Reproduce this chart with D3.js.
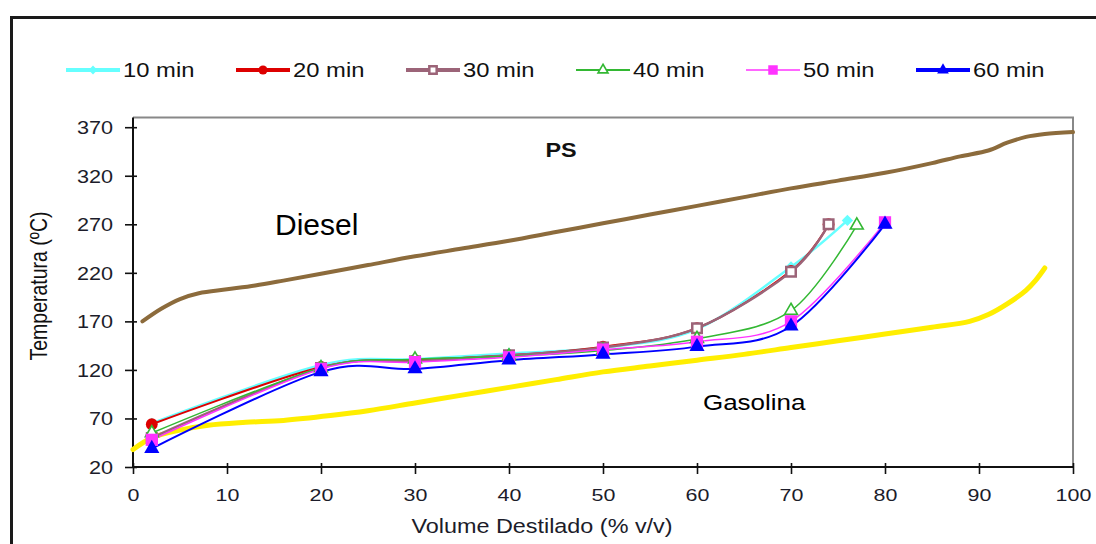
<!DOCTYPE html>
<html>
<head>
<meta charset="utf-8">
<script src="https://cdn.jsdelivr.net/npm/d3@7"></script>
<style>
  html, body { margin: 0; padding: 0; background: #fff; }
  svg { display: block; font-family: "Liberation Sans", Arial, sans-serif; }
</style>
</head>
<body>
<svg id="chart" width="1096" height="544"></svg>
<script>
// Distillation curves of the PS samples against diesel and gasoline references
const seriesNames = ["10 min", "20 min", "30 min", "40 min", "50 min", "60 min"];
const volumePoints = [2, 20, 30, 40, 50, 60, 70];
const endVolume = [76, 74, 74, 77, 80, 80];
const temp10 = [65, 125, 131, 137, 143, 162, 226, 274];
const temp20 = [64, 123, 130, 135, 144, 163, 222, 270];
const temp30 = [50, 122, 129, 135, 143, 163, 221, 270];
const temp40 = [55, 122, 131, 134, 140, 152, 181, 269];
const temp50 = [48, 121, 128, 133, 141, 149, 170, 272];
const temp60 = [39, 118, 121, 130, 136, 144, 165, 270];

const dieselVolume = [1, 3, 5, 7, 10, 13, 16, 20, 25, 30, 35, 40, 45, 50, 55, 60, 65, 70, 75, 80, 85, 88, 91, 93, 95, 97, 100];
const dieselTemp   = [170, 183, 193, 199, 203, 207, 212, 219, 228, 237, 245, 253, 262, 271, 280, 289, 298, 307, 315, 323, 333, 340, 346, 354, 360, 363, 365];
const gasolineVolume = [0, 2, 5, 8, 12, 16, 21, 25, 30, 35, 40, 45, 50, 55, 60, 65, 70, 75, 80, 85, 89, 91, 93, 95, 96, 97];
const gasolineTemp   = [38, 50, 58, 63, 66, 68, 73, 78, 86, 94, 102, 110, 118, 124, 130, 136, 143, 150, 157, 164, 170, 177, 188, 202, 212, 225];

const xTicks = [0, 10, 20, 30, 40, 50, 60, 70, 80, 90, 100];
const yTicks = [20, 70, 120, 170, 220, 270, 320, 370];

const temps = [temp10, temp20, temp30, temp40, temp50, temp60];
const series = seriesNames.map((name, i) => ({
  name,
  points: volumePoints.map((v, j) => [v, temps[i][j]]).concat([[endVolume[i], temps[i][7]]])
}));

// Appearance of each series: line colour/width, marker shape and fill
const styles = [
  { color: "#66ffff", width: 2.5, legendWidth: 4,   symbol: d3.symbolSquare,   size: 64,  fill: "#66ffff", rotate: 45, sw: 0 },
  { color: "#dd0000", width: 2,   legendWidth: 4,   symbol: d3.symbolCircle,   size: 110, fill: "#dd0000", rotate: 0,  sw: 0 },
  { color: "#9c6478", width: 2.5, legendWidth: 4,   symbol: d3.symbolSquare,   size: 90,  fill: "#ffffff", rotate: 0,  sw: 2.5 },
  { color: "#33b833", width: 1.5, legendWidth: 2,   symbol: d3.symbolTriangle, size: 72,  fill: "#ffffff", rotate: 0,  sw: 1.6 },
  { color: "#ff33ff", width: 1.5, legendWidth: 1.5, symbol: d3.symbolSquare,   size: 150, fill: "#ff33ff", rotate: 0,  sw: 0 },
  { color: "#0000ff", width: 2,   legendWidth: 4,   symbol: d3.symbolTriangle, size: 100, fill: "#0000ff", rotate: 0,  sw: 0 }
];

const svg = d3.select("#chart");
const x = d3.scaleLinear().domain([0, 100]).range([133, 1073]);
const y = d3.scaleLinear().domain([20, 380]).range([467, 117.5]);

// Outer frame
svg.append("rect")
  .attr("x", 11.5).attr("y", 17.5).attr("width", 1200).attr("height", 600)
  .attr("fill", "none").attr("stroke", "#1a1a1a").attr("stroke-width", 3);

// Horizontally widened text helper
function wideText(parent, px, py, str, opts) {
  const g = parent.append("g")
    .attr("transform", `translate(${px},${py}) scale(${opts.sx || 1},1)`);
  return g.append("text")
    .attr("text-anchor", opts.anchor || "start")
    .attr("font-size", opts.size)
    .attr("font-weight", opts.weight || "normal")
    .attr("fill", opts.fill || "#111")
    .text(str);
}

// Plot frame (top and right)
svg.append("path")
  .attr("d", `M${x(0)},${y(380)}H${x(100)}V${y(20)}`)
  .attr("fill", "none").attr("stroke", "#888").attr("stroke-width", 2);

// Y axis
const yAxis = svg.append("g")
  .attr("transform", `translate(${x(0)},0)`)
  .call(d3.axisLeft(y).tickValues(yTicks).tickSize(8).tickFormat(d3.format("d")));
yAxis.select(".domain").attr("stroke", "#111").attr("stroke-width", 2)
  .attr("d", `M0,${y(20)}V${y(380)}`);
yAxis.selectAll(".tick line").attr("x1", 4).attr("x2", -8).attr("stroke", "#111").attr("stroke-width", 1.6);
yAxis.selectAll(".tick text")
  .attr("x", 0).attr("dy", "0.34em")
  .attr("transform", "translate(-20,0) scale(1.17,1)")
  .attr("font-size", 18.5).attr("fill", "#1c1c2a")
  .attr("font-family", "Liberation Sans, Arial, sans-serif");

// X axis
const xAxis = svg.append("g")
  .attr("transform", `translate(0,${y(20)})`)
  .call(d3.axisBottom(x).tickValues(xTicks).tickSize(7).tickFormat(d3.format("d")));
xAxis.select(".domain").attr("stroke", "#111").attr("stroke-width", 2)
  .attr("d", `M${x(0)},0H${x(100)}`);
xAxis.selectAll(".tick line").attr("y1", -4).attr("y2", 7).attr("stroke", "#111").attr("stroke-width", 1.6);
xAxis.selectAll(".tick text")
  .attr("y", 0).attr("dy", 0)
  .attr("transform", "translate(0,34) scale(1.3,1)")
  .attr("font-size", 16.5).attr("fill", "#1c1c2a")
  .attr("font-family", "Liberation Sans, Arial, sans-serif");

// Axis titles
wideText(svg, 542, 533, "Volume Destilado (% v/v)", { size: 19.5, sx: 1.2, anchor: "middle", fill: "#1c1c2a" });
svg.append("g")
  .attr("transform", "translate(47,286) rotate(-90) scale(1,1.2)")
  .append("text")
  .attr("text-anchor", "middle").attr("font-size", 19.5).attr("fill", "#111")
  .text("Temperatura (ºC)");

// Reference curves
const smooth = d3.line().x(d => x(d[0])).y(d => y(d[1])).curve(d3.curveCatmullRom.alpha(0.5));
svg.append("path")
  .attr("d", smooth(dieselVolume.map((v, i) => [v, dieselTemp[i]])))
  .attr("fill", "none").attr("stroke", "#8c6b3c").attr("stroke-width", 4).attr("stroke-linecap", "round");
svg.append("path")
  .attr("d", smooth(gasolineVolume.map((v, i) => [v, gasolineTemp[i]])))
  .attr("fill", "none").attr("stroke", "#ffee00").attr("stroke-width", 5).attr("stroke-linecap", "round");

// Sample curves
const sampleLine = d3.line().x(d => x(d[0])).y(d => y(d[1])).curve(d3.curveCatmullRom.alpha(0));
series.forEach((s, i) => {
  svg.append("path")
    .attr("d", sampleLine(s.points))
    .attr("fill", "none").attr("stroke", styles[i].color).attr("stroke-width", styles[i].width);
});
function marker(sel, st, scale) {
  sel.attr("d", d3.symbol().type(st.symbol).size(st.size * scale)())
    .attr("fill", st.fill)
    .attr("stroke", st.sw ? st.color : "none")
    .attr("stroke-width", st.sw);
}
series.forEach((s, i) => {
  const st = styles[i];
  svg.append("g").selectAll("path")
    .data(s.points).join("path")
    .attr("transform", d => `translate(${x(d[0])},${y(d[1])}) rotate(${st.rotate})`)
    .call(marker, st, 1);
});

// Annotations
wideText(svg, 561, 157, "PS", { size: 19.5, sx: 1.2, anchor: "middle", weight: "bold" });
wideText(svg, 275, 235, "Diesel", { size: 30, sx: 1.0, fill: "#000" });
wideText(svg, 703, 410, "Gasolina", { size: 22, sx: 1.18, fill: "#000" });

// Legend
const legend = svg.append("g");
seriesNames.forEach((name, i) => {
  const st = styles[i];
  const x0 = 66 + i * 170;
  const ly = 70;
  legend.append("line")
    .attr("x1", x0).attr("x2", x0 + 54).attr("y1", ly).attr("y2", ly)
    .attr("stroke", st.color).attr("stroke-width", st.legendWidth);
  legend.append("path")
    .attr("transform", `translate(${x0 + 27},${ly}) rotate(${st.rotate})`)
    .call(marker, st, 0.6);
  wideText(legend, x0 + 57, ly + 7, name, { size: 19.5, sx: 1.22, fill: "#111" });
});
</script>
</body>
</html>
